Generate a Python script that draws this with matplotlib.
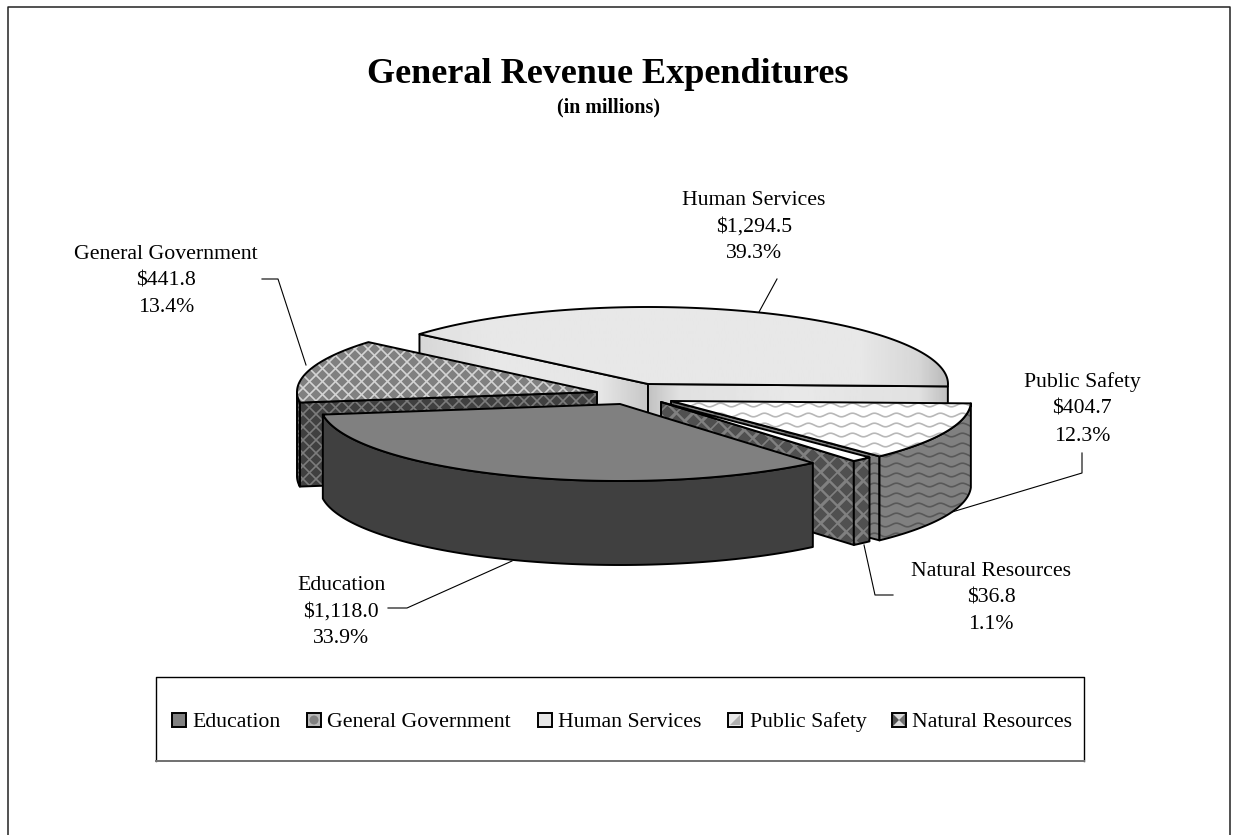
import numpy as np
import matplotlib
matplotlib.use("Agg")
import matplotlib.pyplot as plt
from matplotlib.patches import Polygon, Rectangle, Circle
from matplotlib.collections import LineCollection

plt.rcParams['font.family'] = ['Liberation Serif', 'DejaVu Serif']

# data
categories = ['Education', 'General Government', 'Human Services', 'Public Safety', 'Natural Resources']
values = [1118.0, 441.8, 1294.5, 404.7, 36.8]

# layout in pixels: apex of each exploded slice, same order as categories
apex = [(620, 404), (597, 392), (648, 384), (671, 401), (661, 402)]
label_pos = [(341, 612), (166, 281), (754, 227), (1082, 409), (991, 598)]
leaders = [[(512, 561), (407, 608), (388, 608)],
           [(262, 279), (278, 279), (306, 365)],
           [(759, 312), (777, 279)],
           [(1082, 453), (1082, 473), (952, 512)],
           [(864, 545), (875, 595), (893, 595)]]
legend_swatch_x = [172, 307, 538, 728, 892]
legend_text_x = [192, 327, 558, 750, 912]
RX, RY, DEPTH = 300, 77, 84
START = 50.0
EDGE = 1.4

fig = plt.figure(figsize=(12.38, 8.35), dpi=100)
ax = fig.add_axes([0, 0, 1, 1])
ax.set_xlim(0, 1238)
ax.set_ylim(835, 0)
ax.axis('off')

total = sum(values)
sweeps = [v / total * 360 for v in values]
starts = START + np.concatenate([[0], np.cumsum(sweeps)[:-1]])

# painter's order: everything in the pie gets the next zorder
z = [1]


def nextz():
    z[0] += 1
    return z[0]


def arc(c, t0, t1, dy=0):
    t = np.radians(np.linspace(t0, t1, 120))
    return np.column_stack([c[0] + RX * np.cos(t), c[1] + RY * np.sin(t) + dy])


def poly(pts, fc):
    p = Polygon(pts, closed=True, fc=fc, ec='none', zorder=nextz())
    ax.add_patch(p)
    return p


def outline(pts):
    ax.add_patch(Polygon(pts, closed=True, fc='none', ec='black', lw=EDGE, joinstyle='round', zorder=nextz()))


def lattice(p, color, pitch=13, lw=1.2):
    x0, y0, x1, y1 = 280, 320, 900, 560
    segs = []
    h = y1 - y0
    for x in np.arange(x0 - h, x1 + h, pitch):
        segs.append([(x, y0), (x + h, y1)])
        segs.append([(x + h, y0), (x, y1)])
    lc = LineCollection(segs, colors=color, linewidths=lw, zorder=nextz())
    ax.add_collection(lc)
    lc.set_clip_path(p)


def waves(p, color, lw=1.2):
    x = np.arange(660, 990, 1.0)
    for y0 in np.arange(395, 545, 10.0):
        yy = y0 + 1.8 * np.sin(x * 2 * np.pi / 22)
        ln, = ax.plot(x, yy, color=color, lw=lw, zorder=nextz())
        ln.set_clip_path(p)


def diamonds(p, color, pitch=17, size=48):
    gx, gy = np.meshgrid(np.arange(650, 880, pitch), np.arange(395, 555, pitch))
    gx = np.concatenate([gx.ravel(), gx.ravel() + pitch / 2])
    gy = np.concatenate([gy.ravel(), gy.ravel() + pitch / 2])
    sc = ax.scatter(gx, gy, marker='D', s=size, c=color, linewidths=0, zorder=nextz())
    sc.set_clip_path(p)


def gradient(pts, stops, x0, x1):
    p = poly(pts, 'none')
    xs = np.linspace(0, 1, 256)
    g = np.interp(xs, [s[0] for s in stops], [s[1] for s in stops])
    im = ax.imshow(g[None, :], extent=(x0, x1, 835, 0), cmap='gray', vmin=0, vmax=1, aspect='auto', zorder=nextz())
    im.set_clip_path(p)
    ax.set_xlim(0, 1238)
    ax.set_ylim(835, 0)
    return p


def face(c, t, dy=DEPTH):
    e = arc(c, t, t, 0)[0]
    return [c, tuple(e), (e[0], e[1] + dy), (c[0], c[1] + dy)]


def wall(c, t0, t1):
    # visible part of the rim only (front half of the ellipse)
    out = []
    for a, b in [(0, 180), (360, 540)]:
        lo, hi = max(t0, a), min(t1, b)
        if hi > lo:
            out.append(np.vstack([arc(c, lo, hi), arc(c, hi, lo, DEPTH)]))
    return out


end = starts + sweeps
edu, gov, hum, saf, nat = 0, 1, 2, 3, 4

# leader lines sit under the pie
for pts in leaders:
    pts = np.array(pts)
    ax.plot(pts[:, 0], pts[:, 1], color='black', lw=0.8, zorder=nextz())

# human services, back slice with the soft shading
c = apex[hum]
f = face(c, starts[hum])
gradient(f, [(0, .84), (.35, .91), (.8, .90), (1, .78)], 418, 648)
outline(f)
f = face(c, end[hum])
gradient(f, [(0, .76), (.1, .88), (.5, .91), (.9, .88), (1, .74)], 648, 950)
outline(f)
top = np.vstack([[c], arc(c, starts[hum], end[hum])])
gradient(top, [(0, .85), (.25, .91), (.85, .91), (.95, .84), (1, .72)], 348, 950)
outline(top)

# general government
c = apex[gov]
f = face(c, starts[gov])
p = poly(f, '#404040')
lattice(p, '#7c7c7c')
outline(f)
for w in wall(c, starts[gov], end[gov]):
    p = poly(w, '#404040')
    lattice(p, '#7c7c7c')
    outline(w)
top = np.vstack([[c], arc(c, starts[gov], end[gov])])
p = poly(top, '#808080')
lattice(p, '#d4d4d4')
outline(top)

# public safety
c = apex[saf]
f = face(c, end[saf])
p = poly(f, '#808080')
waves(p, '#585858')
outline(f)
for w in wall(c, starts[saf], end[saf]):
    p = poly(w, '#808080')
    waves(p, '#585858')
    outline(w)
top = np.vstack([[c], arc(c, starts[saf], end[saf])])
p = poly(top, 'white')
waves(p, '#b8b8b8')
outline(top)

# natural resources
c = apex[nat]
f = face(c, end[nat])
p = poly(f, '#808080')
diamonds(p, '#505050')
outline(f)
for w in wall(c, starts[nat], end[nat]):
    p = poly(w, '#808080')
    diamonds(p, '#505050')
    outline(w)
top = np.vstack([[c], arc(c, starts[nat], end[nat])])
poly(top, 'white')
outline(top)

# education goes last, it sits in front
c = apex[edu]
for w in wall(c, starts[edu], end[edu]):
    poly(w, '#404040')
    outline(w)
top = np.vstack([[c], arc(c, starts[edu], end[edu])])
poly(top, '#808080')
outline(top)

# labels
for name, v, pos in zip(categories, values, label_pos):
    ax.text(pos[0], pos[1], f"{name}\n${v:,.1f}\n{v / total * 100:.1f}%", ha='center', va='center',
            fontsize=15.7, linespacing=1.54, color='black', zorder=nextz())

ax.text(608, 83, 'General Revenue Expenditures', ha='center', va='baseline', fontsize=26.0, fontweight='bold')
ax.text(608.5, 112, '(in millions)', ha='center', va='baseline', fontsize=14.4, fontweight='bold')

# legend box, drawn by hand to sit where the original does
lz = nextz()
ax.add_patch(Rectangle((156, 677), 928, 84, fc='white', ec='none', zorder=lz))
ax.plot([156, 156, 1084, 1084], [761, 677, 677, 761], color='black', lw=1.0, zorder=lz + 1)
ax.plot([156, 1084], [761, 761], color='#707070', lw=1.4, zorder=lz + 1)
swatch_fc = ['#808080', '#b8b8b8', '#e6e6e6', '#e8e8e8', '#d8d8d8']
for i, name in enumerate(categories):
    x = legend_swatch_x[i]
    ax.add_patch(Rectangle((x, 713), 14, 14, fc=swatch_fc[i], ec='black', lw=1.4, zorder=lz + 2))
    if i == gov:
        ax.add_patch(Circle((x + 7, 720), 4.5, fc='#808080', ec='none', zorder=lz + 3))
    if i == saf:
        ax.add_patch(Polygon([(x + 2, 725), (x + 12, 715), (x + 12, 725)], fc='#b0b0b0', ec='none', zorder=lz + 3))
    if i == nat:
        ax.add_patch(Polygon([(x + 1, 714), (x + 7, 720), (x + 1, 726)], fc='#505050', ec='none', zorder=lz + 3))
        ax.add_patch(Polygon([(x + 13, 714), (x + 7, 720), (x + 13, 726)], fc='#707070', ec='none', zorder=lz + 3))
    ax.text(legend_text_x[i], 727, name, ha='left', va='baseline', fontsize=15.7, zorder=lz + 4)

# outer frame runs off the bottom of the image
ax.plot([8, 8, 1230, 1230], [835, 7, 7, 835], color='#222222', lw=1.1)

fig.savefig('out.png', dpi=100)
